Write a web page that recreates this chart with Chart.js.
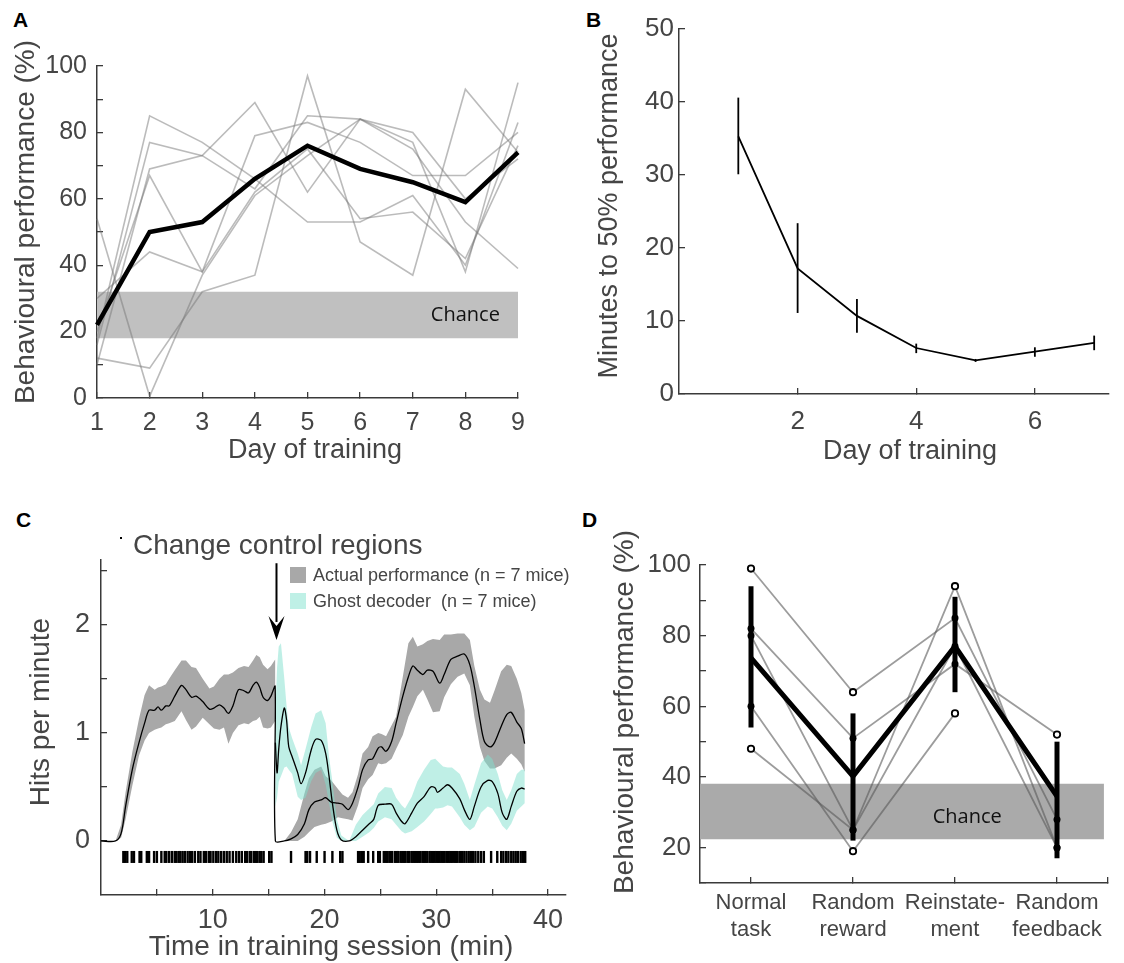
<!DOCTYPE html>
<html>
<head>
<meta charset="utf-8">
<script src="https://cdn.jsdelivr.net/npm/chart.js@4.4.1/dist/chart.umd.min.js"></script>
<style>
body{margin:0;background:#fff;width:1124px;height:963px;position:relative;overflow:hidden}
canvas{position:absolute}
.lab{position:absolute;font:bold 21px "Liberation Sans",Arial,sans-serif;line-height:21px;color:#000}
</style>
</head>
<body>
<div class="lab" style="left:13px;top:9px">A</div>
<div class="lab" style="left:586px;top:9px">B</div>
<div class="lab" style="left:16px;top:509px">C</div>
<div class="lab" style="left:582px;top:509px">D</div>
<canvas id="chartA"></canvas>
<canvas id="chartB"></canvas>
<canvas id="chartC"></canvas>
<canvas id="chartD"></canvas>
<script>
// ---------- A: behavioural performance per day
const daysA = [1, 2, 3, 4, 5, 6, 7, 8, 9];
const meanA = [22, 50, 53, 66, 76, 69, 65, 59, 74];
const miceA = [
  [54, 0.5, 37, 61, 73, 84, 75, 53, 39],
  [12, 9, 32, 37, 97, 47, 37, 93, 74],
  [18, 85, 77, 66, 53, 53, 61, 40, 83],
  [16, 77, 73, 63, 85, 84, 77, 38, 95],
  [10, 69, 73, 89, 62, 84, 80, 60, 72],
  [20, 67, 38, 79, 83, 77, 67, 67, 80],
  [30, 44, 38, 62, 75, 54, 56, 42, 76]
];
const chanceA = [18, 32];
const yTicksA = [0, 10, 20, 30, 40, 50, 60, 70, 80, 90, 100];
const yLabelsA = [0, 20, 40, 60, 80, 100];

// ---------- B: minutes to 50% performance
const daysB = [1, 2, 3, 4, 5, 6, 7];
const minutesB = [35.3, 17.2, 10.7, 6.3, 4.6, 5.8, 7.0];
const errLoB = [30.1, 11.1, 8.4, 5.6, 4.4, 5.1, 6.0];
const errHiB = [40.6, 23.4, 13.0, 6.9, 4.8, 6.4, 8.0];
const xTicksB = [2, 4, 6];
const yTicksB = [0, 10, 20, 30, 40, 50];

// ---------- C: hits per minute over the session
const tPre = [0, 1.3, 1.8, 2.2, 2.8, 3.4, 3.9, 4.3, 4.8, 5.1, 5.4, 5.8, 6.1, 6.6, 7.2, 7.6, 8.1, 8.5, 9.1, 9.7, 10.1, 10.6, 11.0, 11.4, 11.8, 12.3, 12.8, 13.2, 13.6, 13.9, 14.2, 14.5, 14.9, 15.2, 15.58];
const meanPre = [0, 0, 0.07, 0.32, 0.66, 0.91, 1.09, 1.21, 1.21, 1.24, 1.21, 1.25, 1.25, 1.34, 1.44, 1.40, 1.33, 1.34, 1.29, 1.22, 1.23, 1.26, 1.23, 1.18, 1.25, 1.40, 1.39, 1.37, 1.44, 1.47, 1.42, 1.33, 1.30, 1.34, 1.43];
const upperPre = [0, 0, 0.15, 0.45, 0.82, 1.13, 1.35, 1.44, 1.40, 1.42, 1.43, 1.45, 1.50, 1.58, 1.67, 1.67, 1.61, 1.60, 1.50, 1.41, 1.43, 1.50, 1.54, 1.54, 1.56, 1.60, 1.62, 1.61, 1.67, 1.72, 1.70, 1.63, 1.59, 1.62, 1.68];
const lowerPre = [0, 0, 0.03, 0.20, 0.51, 0.79, 0.93, 1.00, 1.03, 1.04, 1.05, 1.08, 1.09, 1.11, 1.20, 1.12, 1.03, 1.06, 1.14, 1.08, 1.04, 1.03, 1.05, 0.90, 1.00, 1.07, 1.09, 1.08, 1.11, 1.12, 1.15, 1.05, 1.04, 1.05, 1.11];

const tPost = [15.6, 16.4, 17.0, 17.6, 18.2, 18.6, 19.1, 19.7, 20.1, 20.6, 21.2, 21.6, 22.1, 22.5, 23.0, 23.4, 23.9, 24.3, 24.8, 25.1, 25.5, 26.0, 26.4, 27.0, 27.5, 27.9, 28.3, 28.8, 29.2, 29.7, 30.3, 30.7, 31.3, 31.9, 32.5, 33.0, 33.4, 33.9, 34.3, 34.8, 35.2, 35.8, 36.3, 36.7, 37.2, 37.6, 37.9];
const meanPost = [0, 0, 0.02, 0.06, 0.16, 0.29, 0.36, 0.38, 0.40, 0.36, 0.35, 0.34, 0.29, 0.35, 0.50, 0.66, 0.75, 0.76, 0.86, 0.87, 0.83, 0.92, 1.09, 1.34, 1.52, 1.62, 1.58, 1.54, 1.58, 1.57, 1.46, 1.54, 1.68, 1.71, 1.73, 1.63, 1.43, 1.12, 0.92, 0.87, 0.91, 1.06, 1.17, 1.19, 1.10, 1.04, 0.90];
const upperPost = [0, 0, 0.08, 0.20, 0.44, 0.58, 0.66, 0.69, 0.60, 0.56, 0.48, 0.43, 0.40, 0.45, 0.62, 0.81, 0.87, 0.97, 1.00, 0.99, 0.97, 1.07, 1.15, 1.52, 1.83, 1.89, 1.80, 1.82, 1.85, 1.87, 1.86, 1.91, 1.91, 1.92, 1.92, 1.86, 1.62, 1.40, 1.31, 1.28, 1.39, 1.57, 1.63, 1.62, 1.50, 1.37, 1.21];
const lowerPost = [0, 0, 0, 0, 0.04, 0.08, 0.13, 0.15, 0.16, 0.18, 0.22, 0.21, 0.20, 0.19, 0.33, 0.49, 0.57, 0.61, 0.72, 0.71, 0.72, 0.76, 0.85, 0.98, 1.15, 1.24, 1.34, 1.40, 1.31, 1.19, 1.20, 1.33, 1.45, 1.52, 1.55, 1.44, 1.15, 0.87, 0.74, 0.67, 0.67, 0.70, 0.77, 0.81, 0.76, 0.71, 0.64];

const tGhost = [15.6, 15.75, 15.9, 16.1, 16.4, 16.6, 16.8, 17.1, 17.6, 17.9, 18.3, 18.8, 19.2, 19.7, 20.1, 20.4, 20.7, 21.1, 21.5, 22.2, 22.8, 23.4, 24.0, 24.4, 24.8, 25.4, 26.0, 26.4, 26.9, 27.2, 27.8, 28.3, 28.9, 29.5, 29.9, 30.1, 30.6, 31.0, 31.4, 32.1, 32.5, 33.0, 33.4, 34.0, 34.6, 35.0, 35.5, 35.9, 36.3, 36.7, 37.2, 37.6, 37.9];
const meanGhost = [0.91, 0.63, 0.85, 1.06, 1.23, 1.12, 0.87, 0.78, 0.63, 0.53, 0.63, 0.84, 0.94, 0.93, 0.81, 0.60, 0.35, 0.10, 0.01, 0, 0.04, 0.10, 0.16, 0.20, 0.33, 0.34, 0.34, 0.26, 0.18, 0.16, 0.26, 0.35, 0.41, 0.50, 0.49, 0.45, 0.49, 0.52, 0.49, 0.39, 0.29, 0.20, 0.32, 0.50, 0.56, 0.55, 0.44, 0.26, 0.20, 0.32, 0.46, 0.49, 0.48];
const upperGhost = [1.20, 1.60, 1.80, 1.83, 1.50, 1.25, 1.05, 0.95, 0.81, 0.70, 0.85, 1.05, 1.18, 1.21, 1.09, 0.78, 0.55, 0.20, 0.05, 0, 0.15, 0.24, 0.30, 0.34, 0.44, 0.50, 0.49, 0.40, 0.33, 0.30, 0.41, 0.55, 0.66, 0.75, 0.76, 0.74, 0.69, 0.68, 0.68, 0.62, 0.53, 0.38, 0.52, 0.72, 0.80, 0.76, 0.62, 0.47, 0.38, 0.47, 0.62, 0.66, 0.66];
const lowerGhost = [0.32, 0.40, 0.55, 0.60, 0.68, 0.69, 0.66, 0.62, 0.41, 0.38, 0.40, 0.55, 0.63, 0.66, 0.52, 0.35, 0.18, 0.03, 0, 0, 0, 0.04, 0.08, 0.12, 0.18, 0.22, 0.20, 0.15, 0.09, 0.07, 0.09, 0.13, 0.18, 0.25, 0.30, 0.30, 0.31, 0.33, 0.32, 0.22, 0.15, 0.10, 0.13, 0.26, 0.32, 0.30, 0.22, 0.14, 0.10, 0.16, 0.28, 0.32, 0.35];

const hitTimes = [2.0, 2.15, 2.35, 2.75, 2.95, 3.45, 3.6, 4.1, 4.3, 4.75, 5.0, 5.4, 5.7, 5.85, 6.1, 6.35, 6.6, 6.75, 6.95, 7.1, 7.3, 7.5, 7.75, 7.95, 8.15, 8.4, 8.7, 8.9, 9.2, 9.4, 9.65, 9.8, 10.05, 10.3, 10.5, 10.75, 11.0, 11.25, 11.5, 11.8, 12.1, 12.35, 12.6, 12.9, 13.05, 13.3, 13.45, 13.7, 13.85, 14.0, 14.2, 14.35, 14.55, 15.05, 15.25,
  17.0, 18.3, 18.45, 18.7, 19.3, 20.0, 20.7, 21.4, 21.6,
  23.0, 23.15, 23.35, 23.5, 23.9, 24.35, 24.8, 24.95, 25.3, 25.5, 25.65, 25.85, 26.05, 26.3, 26.45, 26.6, 26.8, 26.95, 27.1, 27.25, 27.45, 27.6, 27.8, 27.95, 28.1, 28.25, 28.4, 28.55, 28.75, 28.9, 29.05, 29.2, 29.4, 29.55, 29.7, 29.85, 30.0, 30.15, 30.3, 30.45, 30.6, 30.75, 30.95, 31.1, 31.25, 31.4, 31.6, 31.75, 31.9, 32.1, 32.3, 32.5, 32.7, 32.9, 33.1, 33.3, 33.5, 33.75, 34.0, 34.25, 34.9, 35.45, 35.8, 36.0, 36.25, 36.45, 36.7, 36.9, 37.1, 37.3, 37.55, 37.75, 37.95];
const hitRow = -0.148;
const changeAt = 15.7;
const xTicksC = [5, 10, 15, 20, 25, 30, 35, 40];
const xLabelsC = [10, 20, 30, 40];
const yTicksC = [0, 0.5, 1, 1.5, 2, 2.5];
const yLabelsC = [0, 1, 2];

// ---------- D: performance per condition
const condD = [["Normal", "task"], ["Random", "reward"], ["Reinstate-", "ment"], ["Random", "feedback"]];
const meanD = [73.7, 40.2, 77, 34.5];
const errLoD = [54, 22, 64, 17];
const errHiD = [94, 58, 91, 50];
const miceD = [
  [99, 64, 85, 28],
  [82, 51, 72, 52],
  [80, 25, 94, 20],
  [60, 19, 58, null],
  [48, 25, 77, 20]
];
const chanceD = [22.4, 38.1];
const yTicksD = [10, 20, 30, 40, 50, 60, 70, 80, 90, 100];
const yLabelsD = [20, 40, 60, 80, 100];

const FONT = '"Liberation Sans", Arial, Helvetica, sans-serif';
const TXT = '#454545';
const AX = '#3a3a3a';

function pts(xs, ys) {
  return xs.map((x, i) => ({x: x, y: ys[i]})).filter(p => p.y !== null);
}
function band(xs, hi, lo) {
  return pts(xs, hi).concat(pts(xs, lo).reverse());
}
function line(data, color, width, order, extra) {
  return Object.assign({data: data, borderColor: color, borderWidth: width, pointRadius: 0,
    fill: false, order: order, tension: 0, clip: false}, extra || {});
}

function axis(o) {
  const horiz = o.pos === 'bottom';
  return {
    type: 'linear', position: o.pos, min: o.min, max: o.max,
    border: {display: true, color: AX, width: 1.5},
    grid: {display: true, drawOnChartArea: false, drawTicks: true, tickLength: -6, color: AX, lineWidth: 1.3},
    ticks: {color: TXT, font: {family: FONT, size: o.font}, padding: o.pad, autoSkip: false,
      maxRotation: 0, minRotation: 0, callback: o.label},
    afterBuildTicks: s => { s.ticks = o.ticks.map(v => ({value: v})); },
    afterFit: s => {
      if (horiz) s.height = o.size; else s.width = o.size;
      s.paddingLeft = 0; s.paddingRight = 0; s.paddingTop = 0; s.paddingBottom = 0;
    }
  };
}

function titles(box, list) {
  return {id: 'titles', afterDraw(chart) {
    const ctx = chart.ctx;
    list.forEach(t => {
      ctx.save();
      ctx.font = t.size + 'px ' + FONT;
      ctx.fillStyle = TXT;
      ctx.textAlign = 'center';
      ctx.textBaseline = 'middle';
      ctx.translate(t.x - box.l, t.y - box.t);
      if (t.rot) ctx.rotate(-Math.PI / 2);
      ctx.fillText(t.text, 0, 0);
      ctx.restore();
    });
  }};
}

function chanceText(x, y) {
  return {id: 'chance', afterDatasetsDraw(chart) {
    const ctx = chart.ctx;
    ctx.save();
    ctx.font = '20px "Open Sans", sans-serif';
    ctx.fillStyle = '#111';
    ctx.textAlign = 'center';
    ctx.textBaseline = 'middle';
    ctx.fillText('Chance', chart.scales.x.getPixelForValue(x), chart.scales.y.getPixelForValue(y));
    ctx.restore();
  }};
}

function makeChart(id, box, area, datasets, xo, yo, plugins) {
  const cv = document.getElementById(id);
  cv.width = box.w; cv.height = box.h;
  cv.style.left = box.l + 'px'; cv.style.top = box.t + 'px';
  xo.pos = 'bottom'; xo.size = box.t + box.h - area.b;
  yo.pos = 'left'; yo.size = area.l - box.l;
  return new Chart(cv, {
    type: 'line',
    data: {datasets: datasets},
    options: {
      responsive: false, animation: false, events: [],
      layout: {padding: {left: 0, top: area.t - box.t, right: box.l + box.w - area.r, bottom: 0}},
      plugins: {legend: {display: false}, tooltip: {enabled: false}},
      scales: {x: axis(xo), y: axis(yo)}
    },
    plugins: plugins
  });
}

// ---- A
const boxA = {l: 0, t: 0, w: 560, h: 480};
const dsA = [line(pts([daysA[0], daysA[daysA.length - 1]], [chanceA[1], chanceA[1]]), 'rgba(0,0,0,0)', 0, 50,
  {fill: {value: chanceA[0]}, backgroundColor: '#c0c0c0'})];
miceA.forEach(m => dsA.push(line(pts(daysA, m), 'rgba(120,120,120,0.5)', 1.6, 40)));
dsA.push(line(pts(daysA, meanA), '#000', 4.5, 10));
makeChart('chartA', boxA, {l: 97, t: 66, r: 518, b: 398}, dsA,
  {min: 1, max: 9, ticks: daysA, font: 25, pad: 16, label: v => String(v)},
  {min: 0, max: 100, ticks: yTicksA, font: 25, pad: 16, label: v => yLabelsA.includes(v) ? String(v) : ''},
  [chanceText(8.0, 25), titles(boxA, [
    {text: 'Day of training', x: 315, y: 451, size: 27},
    {text: 'Behavioural performance (%)', x: 26, y: 222, size: 28, rot: true}
  ])]);

// ---- B
const boxB = {l: 570, t: 0, w: 554, h: 480};
const dsB = [line(pts(daysB, minutesB), '#000', 1.8, 10)];
daysB.forEach((d, i) => dsB.push(line(pts([d, d], [errLoB[i], errHiB[i]]), '#000', 1.8, 5)));
makeChart('chartB', boxB, {l: 679, t: 29, r: 1109, b: 394}, dsB,
  {min: 0, max: 7.25, ticks: xTicksB, font: 26, pad: 18, label: v => String(v)},
  {min: 0, max: 50, ticks: yTicksB, font: 26, pad: 11, label: v => String(v)},
  [titles(boxB, [
    {text: 'Day of training', x: 910, y: 452, size: 27},
    {text: 'Minutes to 50% performance', x: 610, y: 206, size: 27, rot: true}
  ])]);

// ---- C
const boxC = {l: 0, t: 490, w: 600, h: 473};
const dsC = [
  line(band(tPre, upperPre, lowerPre), 'rgba(0,0,0,0)', 0, 60, {fill: 'shape', backgroundColor: '#a8a8a8', clip: undefined}),
  line(band(tPost, upperPost, lowerPost), 'rgba(0,0,0,0)', 0, 60, {fill: 'shape', backgroundColor: '#a8a8a8', clip: undefined}),
  line(band(tGhost, upperGhost, lowerGhost), 'rgba(0,0,0,0)', 0, 55, {fill: 'shape', backgroundColor: 'rgba(127,224,205,0.5)', clip: undefined}),
  line(pts(tPre, meanPre).concat(pts(tPost, meanPost)), '#000', 1.3, 20, {tension: 0.3}),
  line(pts(tGhost, meanGhost), '#000', 1.3, 20, {tension: 0.3}),
  line(hitTimes.map(t => ({x: t, y: hitRow})), '#000', 0, 5, {showLine: false, pointStyle: 'line',
    pointRotation: 90, pointRadius: 6, pointBorderWidth: 2.4, pointBorderColor: '#000'})
];
const annotC = {id: 'annotC', afterDraw(chart) {
  const ctx = chart.ctx, x = chart.scales.x, y = chart.scales.y;
  ctx.save();
  // change marker arrow
  const ax = x.getPixelForValue(changeAt);
  const top = y.getPixelForValue(2.57), tip = y.getPixelForValue(1.86);
  ctx.strokeStyle = '#000'; ctx.fillStyle = '#000'; ctx.lineWidth = 2;
  ctx.beginPath(); ctx.moveTo(ax, top); ctx.lineTo(ax, tip - 18); ctx.stroke();
  ctx.beginPath(); ctx.moveTo(ax - 8, tip - 24); ctx.lineTo(ax, tip - 14); ctx.lineTo(ax + 8, tip - 24);
  ctx.lineTo(ax, tip); ctx.closePath(); ctx.fill();
  // heading
  ctx.font = '28px ' + FONT; ctx.fillStyle = TXT; ctx.textAlign = 'left'; ctx.textBaseline = 'middle';
  ctx.fillText('Change control regions', 133, 56);
  ctx.fillStyle = '#000'; ctx.fillRect(120, 47, 2, 2);
  // legend
  ctx.fillStyle = '#a8a8a8'; ctx.fillRect(290, 77, 16, 16);
  ctx.fillStyle = '#bff0e6'; ctx.fillRect(290, 103, 16, 16);
  ctx.font = '18px ' + FONT; ctx.fillStyle = TXT;
  ctx.fillText('Actual performance (n = 7 mice)', 313, 86);
  ctx.fillText('Ghost decoder  (n = 7 mice)', 313, 112);
  ctx.restore();
}};
makeChart('chartC', boxC, {l: 101, t: 560, r: 566, b: 895}, dsC,
  {min: 0, max: 41.6, ticks: xTicksC, font: 27, pad: 15, label: v => xLabelsC.includes(v) ? String(v) : ''},
  {min: -0.5, max: 2.6, ticks: yTicksC, font: 27, pad: 17, label: v => yLabelsC.includes(v) ? String(v) : ''},
  [annotC, titles(boxC, [
    {text: 'Time in training session (min)', x: 331, y: 947, size: 28},
    {text: 'Hits per minute', x: 41, y: 712, size: 28, rot: true}
  ])]);

// ---- D
const boxD = {l: 580, t: 490, w: 544, h: 473};
const condIdx = condD.map((c, i) => i);
const filledD = [], openD = [];
condIdx.forEach(ci => {
  const vals = miceD.map(m => m[ci]).filter(v => v !== null);
  const mx = Math.max(...vals), mn = Math.min(...vals);
  vals.forEach(v => {
    const single = vals.filter(w => w === v).length === 1;
    ((v === mx || v === mn) && single ? openD : filledD).push({x: ci, y: v});
  });
});
const dsD = [line(pts([-0.5, 3.46], [chanceD[1], chanceD[1]]), 'rgba(0,0,0,0)', 0, 50,
  {fill: {value: chanceD[0]}, backgroundColor: '#aaaaaa'})];
miceD.forEach(m => dsD.push(line(pts(condIdx, m), 'rgba(90,90,90,0.6)', 1.8, 40)));
dsD.push(line(pts(condIdx, meanD), '#000', 5, 30));
condIdx.forEach(i => dsD.push(line(pts([i, i], [errLoD[i], errHiD[i]]), '#000', 5, 25, {borderCapStyle: 'butt'})));
dsD.push(line(filledD, '#000', 0, 2, {showLine: false, pointRadius: 3.5, pointBackgroundColor: '#000', pointBorderWidth: 0}));
dsD.push(line(openD, '#000', 0, 1, {showLine: false, pointRadius: 3.2, pointBackgroundColor: '#fff',
  pointBorderColor: '#000', pointBorderWidth: 1.8}));
makeChart('chartD', boxD, {l: 700, t: 565, r: 1108, b: 883}, dsD,
  {min: -0.5, max: 3.5, ticks: condIdx.concat([3.5]), font: 22, pad: 13, label: v => condD[v] || ''},
  {min: 10, max: 100, ticks: yTicksD, font: 26, pad: 15, label: v => yLabelsD.includes(v) ? String(v) : ''},
  [chanceText(2.12, 28.7), titles(boxD, [
    {text: 'Behavioural performance (%)', x: 625, y: 712, size: 28, rot: true}
  ])]);
</script>
</body>
</html>
